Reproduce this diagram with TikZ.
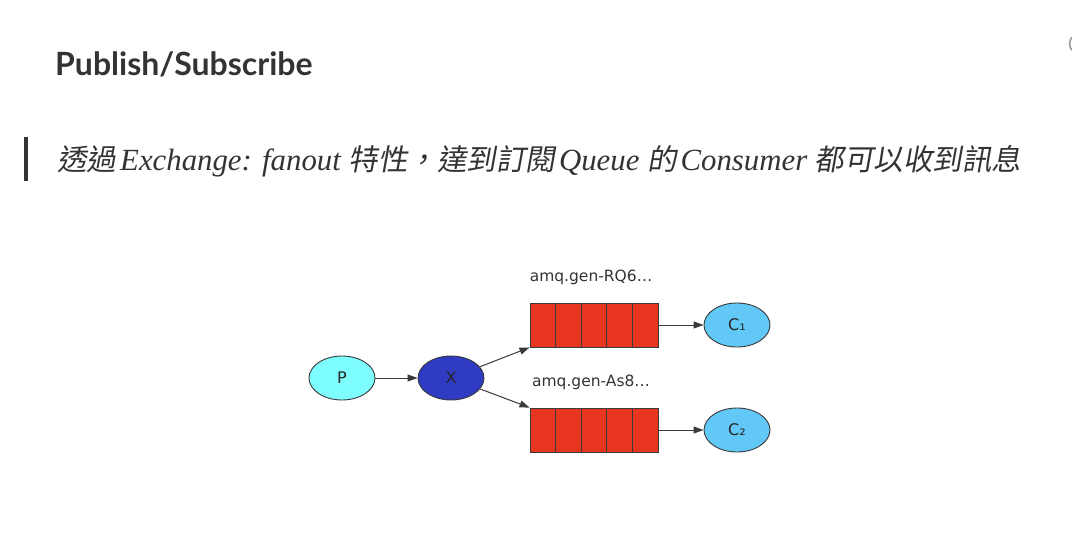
\documentclass[tikz,border=0pt]{standalone}
\usepackage{fontspec}
\usetikzlibrary{arrows.meta,shapes.geometric,calc}
\setmainfont{Liberation Serif}
\newfontfamily\titlefont{Lato}
\newfontfamily\cjkfont[FakeSlant=0.18]{Noto Sans CJK TC}
\newfontfamily\diafont{DejaVu Sans}
\definecolor{txtgray}{HTML}{333333}
\definecolor{pcol}{HTML}{7DFDFE}
\definecolor{xcol}{HTML}{2F3BC2}
\definecolor{ccol}{HTML}{62C8F7}
\definecolor{qcol}{HTML}{E8351F}
\definecolor{edgecol}{HTML}{3A3A3A}
\newcommand{\cjk}[1]{{\cjkfont\fontsize{29.5}{32}\selectfont #1}}
\tikzset{
  ell/.style={ellipse, draw=edgecol, line width=0.9pt, minimum width=66pt, minimum height=44pt, inner sep=0pt,
    font=\diafont\fontsize{16}{18}\selectfont, text=black!85},
  qbox/.style={rectangle, draw=edgecol, line width=0.9pt, fill=qcol, minimum width=128pt, minimum height=44pt, inner sep=0pt},
  qlabel/.style={font=\diafont\fontsize{15.5}{17}\selectfont, text=black!80, inner sep=0pt},
  conn/.style={draw=edgecol, line width=1pt, -{Triangle[length=10pt,width=7pt]}},
}
\begin{document}
\begin{tikzpicture}[x=1pt,y=-1pt]
\useasboundingbox (0,0) rectangle (1072,552);
% title
\node[anchor=base west, inner sep=0pt, text=txtgray, font=\titlefont\bfseries\fontsize{32}{36}\selectfont] (title) at (55,75) {Publish/Subscribe};
% quote bar
\fill[txtgray] (24,137) rectangle (28,181);
% quote text
\node[anchor=base west, inner sep=0pt, text=txtgray, font=\itshape\fontsize{30.8}{34}\selectfont] (quote) at (57,170)
 {\cjk{透過}\kern4pt Exchange: fanout \cjk{特性，達到訂閱}\kern4pt Queue \cjk{的}\kern4pt Consumer \cjk{都可以收到訊息}};
% top-right sliver
\draw[black!40, line width=1.6pt] (1073,37) arc[start angle=100, end angle=260, x radius=4pt, y radius=7pt];
% diagram
\node[ell, fill=pcol] (P) at (342,378) {P};
\node[ell, fill=xcol] (X) at (451,378) {X};
\node[qbox] (q1) at (594,325) {};
\node[qbox] (q2) at (594,430) {};
\foreach \q in {q1,q2}{
  \foreach \i in {1,...,4}{
    \draw[edgecol, line width=0.9pt] ($(\q.south west)!\i/5!(\q.south east)$) -- ($(\q.north west)!\i/5!(\q.north east)$);
  }
}
\node[qlabel] (l1) at (591,277) {amq.gen-RQ6…};
\node[qlabel] (l2) at (591,382) {amq.gen-As8…};
\node[ell, fill=ccol] (c1) at (737,325) {C₁};
\node[ell, fill=ccol] (c2) at (737,430) {C₂};
\draw[conn] (P) -- (X);
\draw[conn] (X) -- (q1.south west);
\draw[conn] (X) -- (q2.north west);
\draw[conn] (q1.east) -- (c1);
\draw[conn] (q2.east) -- (c2);
\end{tikzpicture}
\end{document}
